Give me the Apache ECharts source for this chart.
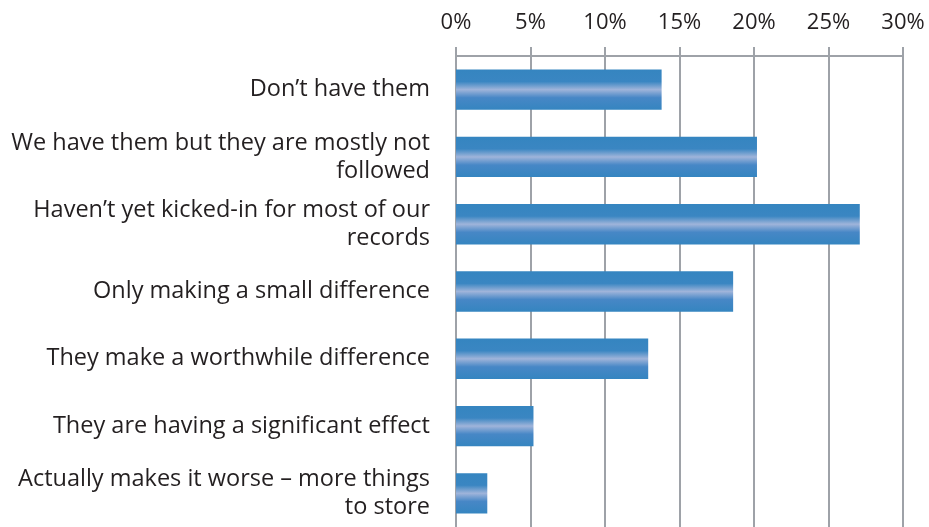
<!DOCTYPE html>
<html>
<head>
<meta charset="utf-8">
<script src="https://cdn.jsdelivr.net/npm/echarts@6/dist/echarts.min.js"></script>
<style>
html,body{margin:0;padding:0;background:#fff;}
#chart{width:929px;height:527px;}
</style>
</head>
<body>
<div id="chart"></div>
<script>
var categories = [
  "Don\u2019t have them",
  "We have them but they are mostly not\nfollowed",
  "Haven\u2019t yet kicked-in for most of our\nrecords",
  "Only making a small difference",
  "They make a worthwhile difference",
  "They are having a significant effect",
  "Actually makes it worse \u2013 more things\nto store"
];
var values = [13.8, 20.2, 27.1, 18.6, 12.9, 5.2, 2.1];
var tickLabels = ["0%", "5%", "10%", "15%", "20%", "25%", "30%"];

var chart = echarts.init(document.getElementById('chart'));
var gridColor = '#9ea2a8';
var fontFamily = '"Open Sans", sans-serif';
chart.setOption({
  animation: false,
  grid: {left: 456, right: 26, top: 56, bottom: -3, containLabel: false},
  xAxis: {
    type: 'value',
    position: 'top',
    min: 0, max: 30, interval: 5,
    axisLine: {show: true, lineStyle: {color: gridColor, width: 2}},
    axisTick: {show: true, length: 9, lineStyle: {color: gridColor, width: 2}},
    splitLine: {show: true, lineStyle: {color: gridColor, width: 2}},
    axisLabel: {
      margin: 22,
      color: '#231f20',
      fontSize: 22,
      fontFamily: fontFamily,
      formatter: function (v) { return tickLabels[Math.round(v / 5)]; }
    }
  },
  yAxis: {
    type: 'category',
    inverse: true,
    data: categories,
    axisLine: {show: false},
    axisTick: {show: false},
    axisLabel: {
      margin: 26,
      color: '#231f20',
      fontSize: 23.5,
      lineHeight: 28,
      align: 'right',
      fontFamily: fontFamily
    }
  },
  series: [{
    type: 'bar',
    data: values,
    barCategoryGap: '40%',
    itemStyle: {
      color: new echarts.graphic.LinearGradient(0, 0, 0, 1, [
        {offset: 0, color: '#3585c0'},
        {offset: 0.3, color: '#3a86c2'},
        {offset: 0.5, color: '#9fb4da'},
        {offset: 0.7, color: '#4787c6'},
        {offset: 1, color: '#3585c0'}
      ])
    }
  }]
});
</script>
</body>
</html>
